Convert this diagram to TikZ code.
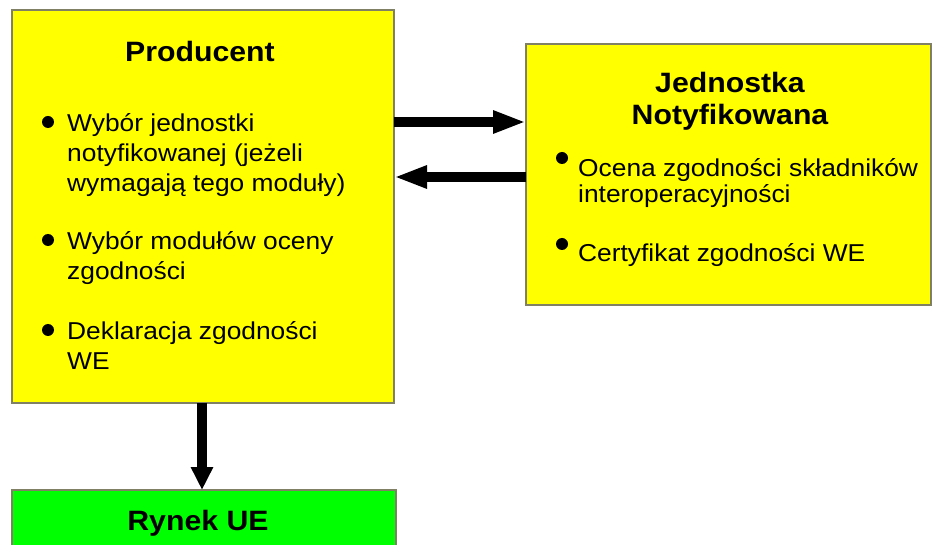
\documentclass[tikz,border=0pt]{standalone}
\usepackage{fontspec}
\setmainfont{Liberation Sans}[FakeStretch=1.08]
\usetikzlibrary{arrows.meta}
\definecolor{boxyellow}{RGB}{255,255,0}
\definecolor{boxgreen}{RGB}{0,255,0}
\definecolor{boxborder}{RGB}{128,128,100}
\tikzset{
  panel/.style={draw=boxborder, line width=1.4pt},
  body/.style={inner sep=0pt, anchor=base west, font=\fontsize{24.4}{30}\selectfont},
  title/.style={inner sep=0pt, anchor=base, font=\fontsize{28}{32}\selectfont\bfseries},
  dot/.style={circle, fill=black, inner sep=0pt, minimum size=12pt},
  bigarrow/.style={line width=10pt, -{Triangle[length=33pt,width=21pt]}},
}
\begin{document}
\begin{tikzpicture}[x=1pt,y=-1pt]
\useasboundingbox (0,0) rectangle (935,545);
\clip (0,0) rectangle (935,545);
\fill[white] (0,0) rectangle (935,545);
% boxes
\draw[panel, fill=boxyellow] (12,10) rectangle (394,403);
\coordinate (pR) at (394,122);
\coordinate (pR2) at (394,177);
\coordinate (pB) at (202,403);
\draw[panel, fill=boxyellow] (526,44) rectangle (931,305);
\coordinate (nL) at (526,122);
\coordinate (nL2) at (526,177);
\draw[panel, fill=boxgreen] (12,490) rectangle (396,570);
\coordinate (rT) at (202,490);
% Producent
\node[title] (ptitle) at (200,62) {Producent};
\node[dot] (b1) at (48,122) {};
\node[body] (p1a) at (67,132) {Wybór jednostki};
\node[body] (p1b) at (67,162) {notyfikowanej (jeżeli};
\node[body] (p1c) at (67,192) {wymagają tego moduły)};
\node[dot] (b2) at (48,240) {};
\node[body] (p2a) at (67,250) {Wybór modułów oceny};
\node[body] (p2b) at (67,280) {zgodności};
\node[dot] (b3) at (48,330) {};
\node[body] (p3a) at (67,340) {Deklaracja zgodności};
\node[body] (p3b) at (67,370) {WE};
% Jednostka Notyfikowana
\node[title] (ntitle1) at (730,93) {Jednostka};
\node[title] (ntitle2) at (730,125) {Notyfikowana};
\node[dot] (n1) at (562,158) {};
\node[body] (n1a) at (578,177) {Ocena zgodności składników};
\node[body] (n1b) at (578,203) {interoperacyjności};
\node[dot] (n2) at (562,244) {};
\node[body] (n2a) at (578,262) {Certyfikat zgodności WE};
% Rynek UE
\node[title] (rtitle) at (198,530) {Rynek UE};
% arrows
\draw[bigarrow] (pR) -- (nL);
\draw[bigarrow] (nL2) -- (pR2);
\draw[line width=10pt, -{Triangle[length=23pt,width=21pt]}] (pB) -- (rT);
\end{tikzpicture}
\end{document}
